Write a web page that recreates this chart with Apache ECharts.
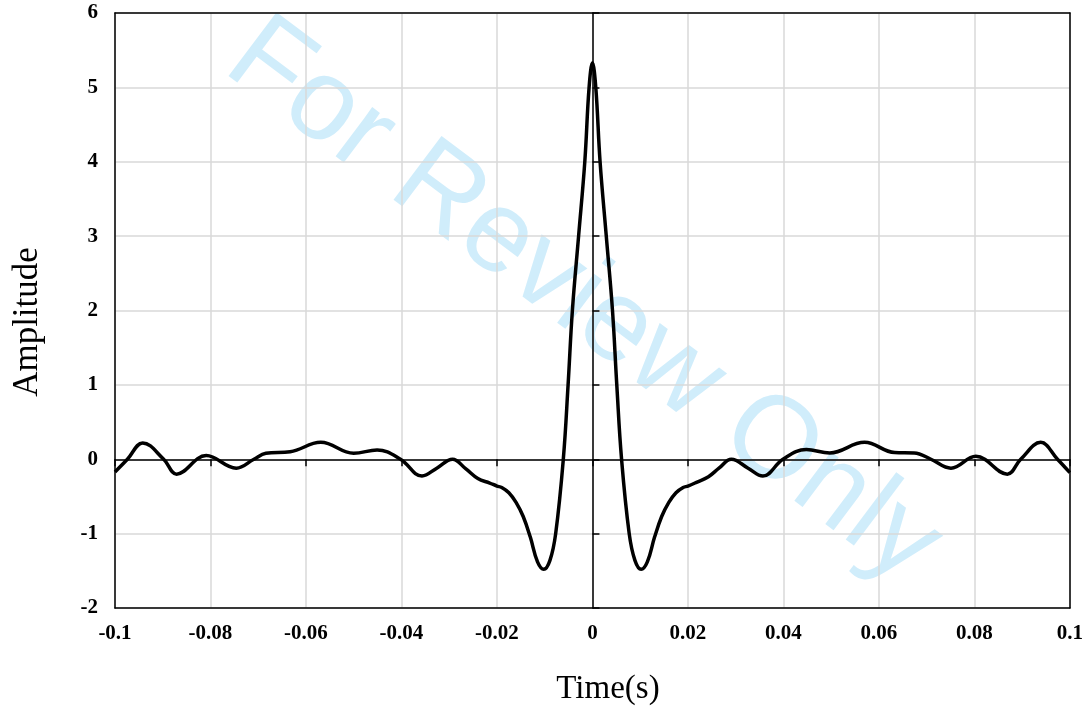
<!DOCTYPE html>
<html>
<head>
<meta charset="utf-8">
<script src="https://cdn.jsdelivr.net/npm/echarts@6/dist/echarts.min.js"></script>
<style>
  html, body { margin: 0; padding: 0; background: #ffffff; }
  #chart { width: 1086px; height: 707px; }
</style>
</head>
<body>
<div id="chart"></div>
<script>
// Sampled pulse: time (s) and amplitude
const timeValues = [
  -0.1, -0.0974, -0.0942, -0.0898, -0.0871, -0.0809, -0.0746, -0.0709, -0.0684, -0.0633,
  -0.0569, -0.05, -0.0451, -0.0402, -0.0357, -0.0326, -0.0293, -0.0265, -0.0240, -0.0215,
  -0.02, -0.019, -0.0175, -0.016, -0.0145, -0.013, -0.0115, -0.0102, -0.0089, -0.0077,
  -0.0061, -0.0051, -0.0042, -0.0029, -0.0016, -0.0007, 0,
  0.0007, 0.0016, 0.0029, 0.0042, 0.0051, 0.0061, 0.0077, 0.0089, 0.0102, 0.0115,
  0.013, 0.0145, 0.016, 0.0175, 0.019, 0.02, 0.0218, 0.0243, 0.0265, 0.0291,
  0.0326, 0.0357, 0.0399, 0.0448, 0.0497, 0.057, 0.0633, 0.0674, 0.0709, 0.0751,
  0.0803, 0.0869, 0.0897, 0.0939, 0.0974, 0.1
];
const amplitudeValues = [
  -0.17, 0.0, 0.22, 0.0, -0.2, 0.05, -0.12, 0.0, 0.08, 0.1,
  0.227, 0.08, 0.125, 0.0, -0.225, -0.12, 0.0, -0.13, -0.26, -0.32,
  -0.36, -0.38, -0.45, -0.58, -0.77, -1.05, -1.38, -1.48, -1.36, -1.0,
  0.0, 1.0, 2.0, 3.0, 4.0, 5.0, 5.33,
  5.0, 4.0, 3.0, 2.0, 1.0, 0.0, -1.0, -1.36, -1.48, -1.38,
  -1.05, -0.77, -0.58, -0.45, -0.38, -0.36, -0.31, -0.235, -0.12, 0.0,
  -0.12, -0.225, 0.0, 0.13, 0.085, 0.227, 0.09, 0.085, 0.0, -0.12,
  0.04, -0.2, 0.0, 0.227, 0.0, -0.18
];

// Axis ranges and tick steps
const xMin = -0.1, xMax = 0.1, xStep = 0.02;
const yMin = -2, yMax = 6, yStep = 1;

const xTitle = 'Time(s)';
const yTitle = 'Amplitude';
const watermarkText = 'For Review Only';

const points = timeValues.map((t, i) => [t, amplitudeValues[i]]);

const serif = '"Liberation Serif", "Times New Roman", serif';
const tickLabelStyle = {
  color: '#000',
  fontFamily: serif,
  fontWeight: 'bold',
  fontSize: 21
};
const gridLine = { show: true, lineStyle: { color: '#d9d9d9', width: 1.5 } };
const blackLine = { color: '#000', width: 1.5 };

// frame edge axis: only a black line, drawn above the grid lines
function frameAxis(extra) {
  return Object.assign({
    type: 'value', z: 4,
    axisLine: { show: true, onZero: false, lineStyle: blackLine },
    axisTick: { show: false },
    axisLabel: { show: false },
    splitLine: { show: false }
  }, extra);
}

const chart = echarts.init(document.getElementById('chart'), null, { renderer: 'canvas' });

chart.setOption({
  animation: false,
  backgroundColor: '#ffffff',
  grid: { left: 115, right: 14, top: 13, bottom: 99 },
  xAxis: [
    {
      // bottom labels, bottom frame edge and vertical grid lines
      type: 'value', min: xMin, max: xMax, interval: xStep,
      position: 'bottom', z: 4,
      axisLine: { show: true, onZero: false, lineStyle: blackLine },
      axisTick: { show: false },
      axisLabel: Object.assign({ margin: 15 }, tickLabelStyle),
      splitLine: gridLine
    },
    {
      // horizontal zero line with downward ticks
      type: 'value', min: xMin, max: xMax, interval: xStep,
      position: 'bottom', z: 4,
      axisLine: { show: true, onZero: true, lineStyle: blackLine },
      axisTick: { show: true, length: 7, lineStyle: blackLine },
      axisLabel: { show: false },
      splitLine: { show: false }
    },
    frameAxis({ min: xMin, max: xMax, interval: xStep, position: 'top' })
  ],
  yAxis: [
    {
      type: 'value', min: yMin, max: yMax, interval: yStep,
      position: 'left', z: 4,
      axisLine: { show: true, onZero: false, lineStyle: blackLine },
      axisTick: { show: false },
      axisLabel: Object.assign({ margin: 17 }, tickLabelStyle),
      splitLine: gridLine
    },
    {
      // vertical zero line with rightward ticks
      type: 'value', min: yMin, max: yMax, interval: yStep,
      position: 'left', z: 4,
      axisLine: { show: true, onZero: true, lineStyle: blackLine },
      axisTick: { show: true, inside: true, length: 7, lineStyle: blackLine },
      axisLabel: { show: false },
      splitLine: { show: false }
    },
    frameAxis({ min: yMin, max: yMax, interval: yStep, position: 'right' })
  ],
  graphic: [
    {
      type: 'text', z: -10,
      x: 583, y: 302, rotation: -0.644,
      style: {
        text: watermarkText,
        font: '116px "Liberation Sans", Arial, sans-serif',
        fill: '#d0edfb',
        textAlign: 'center', textVerticalAlign: 'middle',
        align: 'center', verticalAlign: 'middle'
      }
    },
    {
      type: 'text',
      x: 608, y: 689,
      style: {
        text: xTitle,
        font: '33px ' + serif,
        fill: '#000',
        textAlign: 'center', textVerticalAlign: 'middle',
        align: 'center', verticalAlign: 'middle'
      }
    },
    {
      type: 'text',
      x: 28, y: 322, rotation: Math.PI / 2,
      style: {
        text: yTitle,
        font: '35px ' + serif,
        fill: '#000',
        textAlign: 'center', textVerticalAlign: 'middle',
        align: 'center', verticalAlign: 'middle'
      }
    }
  ],
  series: [
    {
      type: 'line',
      xAxisIndex: 0, yAxisIndex: 0,
      data: points,
      smooth: 0.4,
      showSymbol: false,
      z: 5,
      lineStyle: { color: '#000', width: 3.5 }
    }
  ]
});
</script>
</body>
</html>
